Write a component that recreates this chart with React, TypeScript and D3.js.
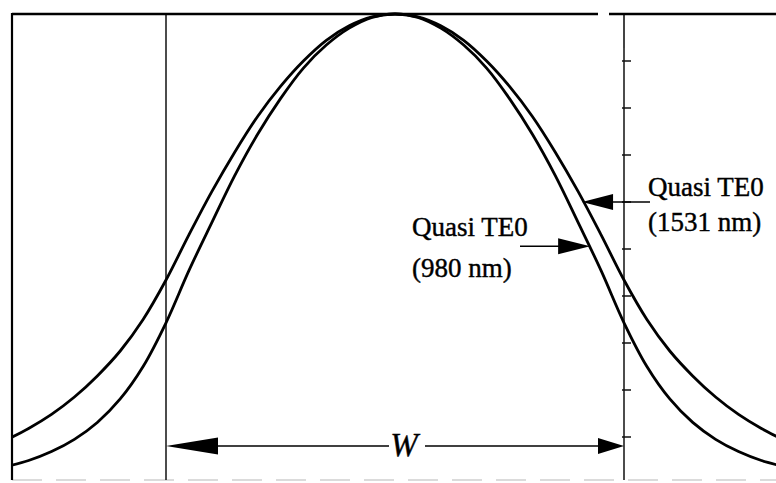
import React from "react";
import * as d3 from "d3";

// Transverse position across the waveguide, in units of half the core width (core edges at -1 and +1)
const positions = [
  -1.7, -1.6, -1.5, -1.4, -1.3, -1.2, -1.1, -1.0, -0.9, -0.8, -0.7, -0.6, -0.5, -0.4, -0.3, -0.2, -0.1,
  0, 0.1, 0.2, 0.3, 0.4, 0.5, 0.6, 0.7, 0.8, 0.9, 1.0, 1.1, 1.2, 1.3, 1.4, 1.5, 1.6, 1.7,
];

// Normalised field amplitude of the quasi-TE0 mode at 1531 nm
const mode1531 = [
  0.093, 0.118, 0.148, 0.185, 0.23, 0.283, 0.35, 0.434, 0.53, 0.622, 0.706, 0.782, 0.846, 0.9, 0.944, 0.975, 0.994,
  1.0, 0.994, 0.975, 0.944, 0.9, 0.846, 0.782, 0.706, 0.622, 0.53, 0.434, 0.35, 0.283, 0.23, 0.185, 0.148, 0.118, 0.093,
];

// Normalised field amplitude of the quasi-TE0 mode at 980 nm
const mode980 = [
  0.037, 0.05, 0.069, 0.095, 0.131, 0.181, 0.25, 0.343, 0.454, 0.556, 0.656, 0.744, 0.82, 0.885, 0.934, 0.97, 0.993,
  1.0, 0.993, 0.97, 0.934, 0.885, 0.82, 0.744, 0.656, 0.556, 0.454, 0.343, 0.25, 0.181, 0.131, 0.095, 0.069, 0.05, 0.037,
];

// Tick marks on the right core boundary
const boundaryTicks = [0.1, 0.2, 0.3, 0.4, 0.5, 0.6, 0.7, 0.8, 0.9];

const labels980 = ["Quasi TE0", "(980 nm)"];
const labels1531 = ["Quasi TE0", "(1531 nm)"];

const W = 776;
const H = 483;
const frame = { left: 12, top: 14, right: 776, bottom: 480 };

const x = d3.scaleLinear().domain([-1, 1]).range([166, 624]);
const y = d3.scaleLinear().domain([0, 1]).range([484, 14]);

const line = d3
  .line<number>()
  .x((_, i) => x(positions[i]))
  .y((d) => y(d))
  .curve(d3.curveCatmullRom.alpha(0.5));

function arrowHead(tipX: number, tipY: number, length: number, half: number, dir: 1 | -1) {
  // dir = 1 points right, -1 points left
  const bx = tipX - dir * length;
  return `M${tipX},${tipY}L${bx},${tipY - half}L${bx},${tipY + half}Z`;
}

export default function App() {
  const serif = "'Liberation Serif', 'Times New Roman', serif";
  const yW = y(0.081);
  const xL = x(-1);
  const xR = x(1);

  // label arrow anchors on the curves
  const tip980 = { x: x(0.852), y: y(0.506) };
  const tip1531 = { x: x(0.817), y: y(0.6) };

  return (
    <div style={{ position: "fixed", left: 0, top: 0 }}>
      <svg width={W} height={H} viewBox={`0 0 ${W} ${H}`} style={{ display: "block", background: "#fff" }}>
        <defs>
          <clipPath id="plot-clip">
            <rect x={frame.left} y={0} width={frame.right - frame.left} height={H} />
          </clipPath>
        </defs>

        {/* bottom edge, faint */}
        <line x1={frame.left} x2={frame.right} y1={frame.bottom} y2={frame.bottom} stroke="#cfcfcf" strokeWidth={1.5} strokeDasharray="30 14" />

        {/* core boundaries */}
        <line x1={xL} x2={xL} y1={frame.top} y2={frame.bottom} stroke="#111" strokeWidth={1.5} />
        <line x1={xR} x2={xR} y1={frame.top} y2={frame.bottom} stroke="#111" strokeWidth={1.5} />
        <line x1={xR} x2={xR} y1={frame.top} y2={48} stroke="#444" strokeWidth={2} />
        {boundaryTicks.map((t) => (
          <line key={t} x1={xR - 2} x2={xR + 7} y1={y(t)} y2={y(t)} stroke="#111" strokeWidth={1.5} />
        ))}

        {/* mode profiles */}
        <g clipPath="url(#plot-clip)" fill="none" stroke="#000" strokeWidth={2.8} strokeLinejoin="round">
          <path d={line(mode1531) ?? ""} />
          <path d={line(mode980) ?? ""} />
        </g>

        {/* frame: left and top edges (top has a break near the right boundary) */}
        <line x1={frame.left} x2={frame.left} y1={frame.top - 1} y2={frame.bottom} stroke="#000" strokeWidth={2.2} />
        <line x1={frame.left} x2={598} y1={frame.top} y2={frame.top} stroke="#000" strokeWidth={2.4} />
        <line x1={609} x2={frame.right} y1={frame.top} y2={frame.top} stroke="#000" strokeWidth={2.4} />

        {/* width dimension arrow */}
        <line x1={xL + 50} x2={389} y1={yW} y2={yW} stroke="#000" strokeWidth={1.4} />
        <line x1={425} x2={xR - 24} y1={yW} y2={yW} stroke="#000" strokeWidth={1.4} />
        <path d={arrowHead(xL, yW, 52, 8.5, -1)} fill="#000" />
        <path d={arrowHead(xR, yW, 26, 8, 1)} fill="#000" />
        <text x={404} y={yW + 10} textAnchor="middle" fontFamily={serif} fontStyle="italic" fontSize={33} fill="#000" stroke="#000" strokeWidth={0.4}>
          W
        </text>

        {/* curve labels */}
        <g fontFamily={serif} fontSize={27} fill="#000" stroke="#000" strokeWidth={0.4}>
          <text x={412} y={236}>{labels980[0]}</text>
          <text x={412} y={277}>{labels980[1]}</text>
          <text x={648} y={196}>{labels1531[0]}</text>
          <text x={648} y={231}>{labels1531[1]}</text>
        </g>

        {/* 980 nm pointer */}
        <line x1={520} x2={tip980.x - 30} y1={tip980.y} y2={tip980.y} stroke="#000" strokeWidth={1.4} />
        <path d={arrowHead(tip980.x, tip980.y, 32, 8, 1)} fill="#000" />

        {/* 1531 nm pointer */}
        <line x1={tip1531.x + 30} x2={650} y1={tip1531.y} y2={tip1531.y} stroke="#000" strokeWidth={1.4} />
        <path d={arrowHead(tip1531.x, tip1531.y, 31, 8, -1)} fill="#000" />
      </svg>
    </div>
  );
}
